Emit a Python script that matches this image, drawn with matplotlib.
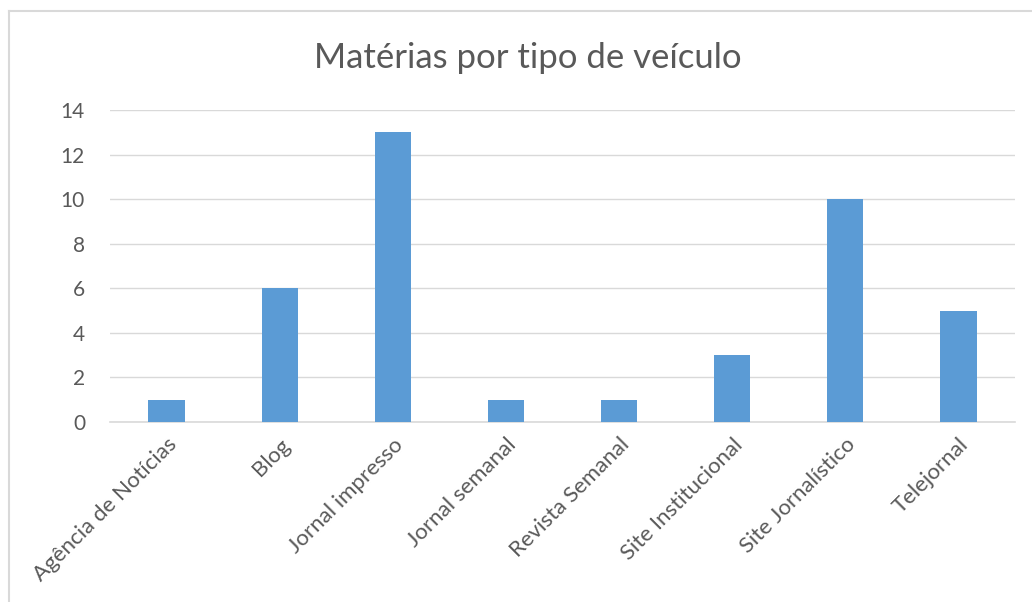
import matplotlib.pyplot as plt
from matplotlib.lines import Line2D

categorias = ["Agência de Notícias", "Blog", "Jornal impresso", "Jornal semanal",
              "Revista Semanal", "Site Institucional", "Site Jornalístico", "Telejornal"]
materias = [1, 6, 13, 1, 1, 3, 10, 5]
y_ticks = [0, 2, 4, 6, 8, 10, 12, 14]

plt.rcParams['font.family'] = ['Lato', 'DejaVu Sans']
texto = '#595959'

fig = plt.figure(figsize=(10.32, 6.02), dpi=100)
ax = fig.add_axes([0.1066, 0.299, 0.877, 0.518])

x = range(len(categorias))
ax.bar(x, materias, width=0.32, color='#5B9BD5', zorder=3)

ax.set_xlim(-0.5, len(categorias) - 0.5)
ax.set_ylim(0, 14)
ax.set_yticks(y_ticks)
ax.set_xticks(list(x))
ax.set_xticklabels(categorias, rotation=45, ha='right', rotation_mode='anchor')
ax.tick_params(axis='both', length=0, colors=texto, labelsize=15)
ax.tick_params(axis='x', labelsize=16, pad=9)
ax.tick_params(axis='y', pad=18)
ax.grid(axis='y', color='#D9D9D9', linewidth=1, zorder=0)
for s in ['top', 'right', 'left']:
    ax.spines[s].set_visible(False)
ax.spines['bottom'].set_color('#D9D9D9')
ax.spines['bottom'].set_linewidth(1.2)

fig.suptitle("Matérias por tipo de veículo", x=0.511, y=0.93, fontsize=25, color=texto)

# moldura do gráfico (borda cinza clara)
fig.add_artist(Line2D([0.009, 0.009], [0, 0.982], transform=fig.transFigure, color='#D9D9D9', lw=1.5))
fig.add_artist(Line2D([0.009, 1.0], [0.982, 0.982], transform=fig.transFigure, color='#D9D9D9', lw=1.5))

fig.savefig('out.png', dpi=100)
